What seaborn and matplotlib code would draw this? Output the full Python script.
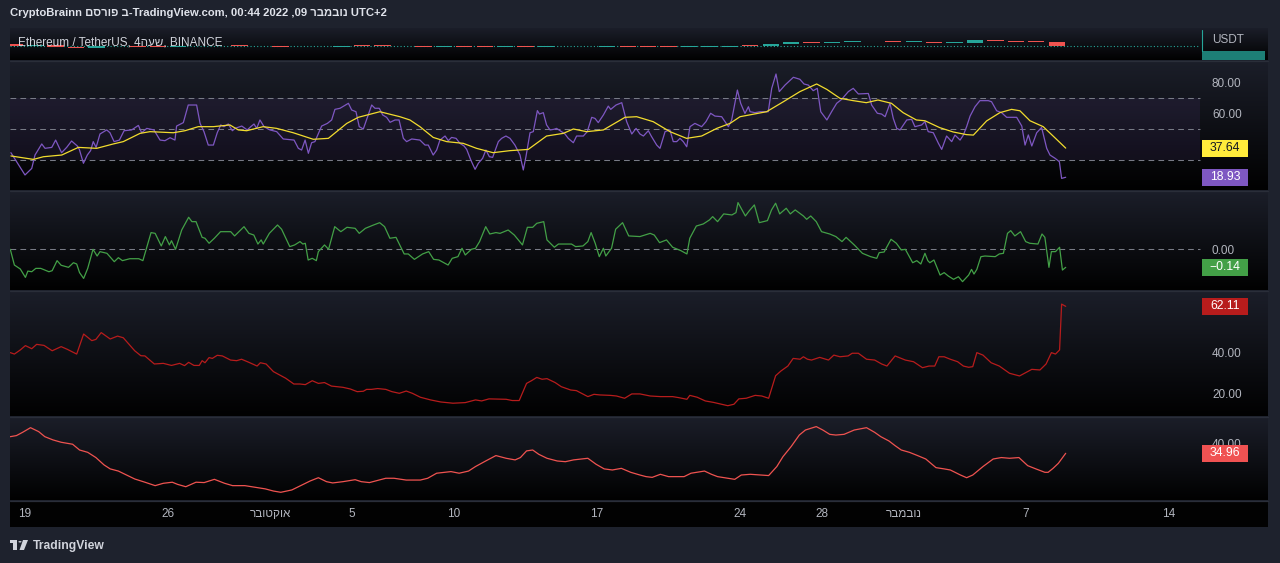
import numpy as np
import matplotlib
matplotlib.use("Agg")
import matplotlib.pyplot as plt
import seaborn as sns
from matplotlib.colors import LinearSegmentedColormap
from matplotlib.patches import Rectangle, Circle, Polygon
from matplotlib.lines import Line2D

# ---------------- data (x = days since 19 Sep 2022 00:00) ----------------
rsi_day = [-0.69, 0.00, 0.33, 0.49, 0.82, 0.98, 1.31, 1.50, 1.79, 2.04, 2.28, 2.56, 2.66, 2.86, 3.05, 3.21,
           3.34, 3.48, 3.67, 4.00, 4.16, 4.36, 4.62, 4.85, 5.22, 5.55, 5.71, 5.96, 6.31, 6.61, 6.85, 7.10,
           7.34, 7.42, 7.75, 7.99, 8.40, 8.57, 8.76, 8.97, 9.22, 9.41, 9.58, 9.74, 9.95, 10.15, 10.28, 10.61,
           10.88, 11.05, 11.21, 11.34, 11.50, 11.70, 11.99, 12.32, 12.64, 13.17, 13.38, 13.54, 13.71, 13.87,
           14.03, 14.19, 14.52, 14.80, 15.01, 15.17, 15.42, 15.83, 15.99, 16.20, 16.36, 16.56, 16.97, 17.13,
           17.34, 17.51, 17.70, 17.87, 18.11, 18.31, 18.52, 18.68, 18.93, 19.33, 19.58, 19.74, 19.98, 20.15,
           20.31, 20.56, 20.72, 20.88, 21.10, 21.29, 21.49, 21.62, 21.82, 22.03, 22.19, 22.40, 22.56, 22.73,
           22.89, 23.17, 23.33, 23.54, 23.74, 23.98, 24.23, 24.39, 24.52, 24.72, 24.88, 25.08, 25.18, 25.37,
           25.53, 25.70, 25.89, 26.02, 26.19, 26.43, 26.59, 26.84, 27.00, 27.33, 27.52, 27.74, 27.90, 28.06,
           28.31, 28.55, 28.67, 28.93, 29.21, 29.45, 29.70, 29.91, 30.10, 30.27, 30.51, 30.67, 30.92, 31.08,
           31.33, 31.57, 31.73, 31.90, 32.06, 32.22, 32.39, 32.55, 32.79, 33.12, 33.33, 33.56, 33.77, 34.10,
           34.43, 34.59, 34.87, 35.03, 35.24, 35.41, 35.49, 35.73, 35.98, 36.38, 36.55, 36.76, 36.92, 37.20,
           37.61, 37.93, 38.13, 38.34, 38.58, 38.78, 38.95, 39.25, 39.48, 39.73, 39.97, 40.30, 40.54, 40.79,
           41.28, 41.44, 41.72, 41.93, 42.10, 42.34, 42.50, 42.67, 42.83, 43.16, 43.40, 43.56, 43.89, 44.05,
           44.21, 44.46, 44.71, 44.87, 45.11, 45.36, 45.52, 45.77, 45.93, 46.09, 46.26, 46.50, 46.74, 47.15,
           47.31, 47.56, 47.80, 48.05, 48.54, 48.79, 48.95, 49.11, 49.28, 49.52, 49.76, 50.01, 50.17, 50.42,
           50.63, 50.74, 50.94]
rsi_val = [34.7, 20.4, 24.6, 33.2, 40.3, 37.5, 38.1, 42.8, 34.7, 38.1, 42.2, 39.0, 36.8, 27.9, 33.2, 36.0,
           41.8, 38.1, 46.7, 49.3, 47.5, 41.8, 42.8, 48.8, 49.3, 52.2, 47.5, 50.3, 49.3, 42.8, 42.4, 44.3,
           42.8, 51.8, 54.0, 65.3, 65.3, 53.5, 48.2, 39.6, 39.6, 47.5, 52.5, 51.4, 53.1, 48.8, 50.3, 51.8,
           49.3, 51.4, 53.1, 50.3, 55.7, 51.4, 49.3, 48.2, 43.5, 42.8, 37.5, 36.4, 42.8, 34.3,
           41.1, 41.8, 51.8, 53.5, 55.7, 62.5, 63.2, 66.4, 62.1, 61.0, 51.4, 49.9, 65.3, 63.2,
           63.2, 58.9, 57.4, 54.2, 55.7, 55.7, 43.9, 41.8, 43.5, 42.8, 39.6, 39.6, 33.2, 36.4,
           42.8, 45.4, 42.4, 44.5, 43.9, 40.7, 39.0, 36.8, 30.0, 24.0, 27.9, 31.1, 36.4, 32.1,
           31.7, 41.8, 43.9, 45.4, 43.9, 39.6, 33.2, 23.6, 32.1, 47.5, 48.2, 61.7, 59.5, 60.4,
           52.5, 49.3, 49.7, 50.3, 48.8, 46.7, 43.9, 41.1, 45.4, 45.4, 48.2, 57.4, 56.7, 54.0,
           58.9, 64.6, 62.5, 65.3, 66.8, 54.6, 46.7, 50.3, 46.7, 45.4, 48.8, 45.0, 39.6, 37.5,
           48.2, 49.3, 41.8, 41.8, 43.9, 41.8, 38.5, 51.4, 53.5, 51.4, 54.6, 60.0, 58.2, 57.8,
           51.4, 55.7, 74.9, 66.4, 59.9, 64.2, 61.0, 60.4, 61.0, 61.0, 76.0, 85.2, 73.9, 78.1,
           83.1, 81.8, 78.8, 78.1, 74.5, 76.0, 61.0, 55.7, 61.0, 66.4, 68.9, 73.9, 76.0, 72.4,
           72.7, 65.3, 60.0, 59.5, 57.8, 66.4, 56.7, 50.3, 49.3, 55.7, 56.1, 51.4, 52.5, 54.6,
           48.2, 47.5, 40.7, 36.8, 45.4, 41.8, 46.0, 42.8, 46.0, 51.4, 58.2, 64.2, 68.1, 68.1,
           67.4, 61.6, 60.4, 57.4, 57.4, 51.8, 39.6, 46.1, 39.0, 47.5, 50.9, 37.5, 33.2, 31.1,
           28.9, 18.2, 18.93]

rsi_ma_day = [-0.69, 0.41, 0.90, 1.80, 2.61, 3.51, 4.32, 4.81, 5.63, 6.12, 7.26, 7.83, 8.48, 9.22, 10.03,
              10.44, 10.85, 11.66, 12.32, 13.13, 14.11, 14.85, 15.75, 16.31, 17.37, 18.35, 18.84, 19.33,
              19.98, 20.64, 21.45, 22.10, 22.91, 23.73, 24.63, 25.53, 26.35, 26.84, 27.49, 28.31, 29.37,
              29.94, 30.75, 31.57, 32.38, 33.12, 33.86, 34.51, 35.00, 36.30, 37.12, 37.93, 38.75, 39.25,
              39.89, 40.54, 41.18, 41.75, 42.41, 42.98, 43.63, 44.05, 44.77, 45.43, 46.08, 46.42, 47.07,
              47.72, 48.29, 48.70, 49.19, 49.84, 50.49, 50.94]
rsi_ma_val = [32.6, 30.4, 32.1, 33.2, 38.1, 37.5, 40.3, 41.8, 47.1, 48.2, 47.5, 48.8, 51.4, 51.4, 52.5,
              49.3, 48.8, 51.4, 50.3, 47.5, 43.3, 43.9, 53.5, 57.4, 61.0, 57.8, 55.7, 51.4,
              44.5, 41.8, 40.7, 37.5, 34.7, 36.0, 36.8, 45.4, 47.1, 49.9, 48.2, 49.3, 57.4,
              57.8, 54.6, 48.2, 43.9, 45.4, 50.3, 53.5, 57.8, 61.0, 67.4, 73.9, 78.8, 75.3,
              69.6, 68.1, 66.8, 68.5, 66.4, 60.4, 55.7, 55.2, 50.8, 48.0, 46.3, 46.0, 55.1,
              60.4, 62.5, 61.6, 55.2, 51.4, 43.3, 37.64]

osc_day = [-0.72, -0.52, -0.23, 0.02, 0.14, 0.33, 0.53, 0.77, 1.17, 1.33, 1.57, 1.77, 2.13, 2.37, 2.53,
           2.67, 2.87, 3.07, 3.33, 3.53, 3.67, 4.01, 4.37, 4.57, 4.77, 5.13, 5.57, 5.77, 6.17, 6.37, 6.67,
           6.87, 7.07, 7.17, 7.37, 7.67, 8.01, 8.17, 8.37, 8.67, 8.81, 9.01, 9.27, 9.57, 10.07, 10.26,
           10.72, 10.96, 11.20, 11.40, 11.56, 11.66, 11.96, 12.36, 12.56, 12.96, 13.20, 13.46, 13.60,
           13.72, 13.86, 14.06, 14.26, 14.36, 14.66, 14.86, 15.16, 15.46, 15.76, 16.16, 16.36, 16.66,
           17.06, 17.36, 17.60, 17.86, 18.16, 18.56, 18.76, 19.06, 19.26, 19.46, 19.76, 20.00, 20.26,
           20.56, 20.71, 20.91, 21.19, 21.39, 21.55, 21.85, 22.05, 22.25, 22.55, 22.75, 23.05, 23.25,
           23.65, 23.95, 24.35, 24.59, 24.85, 25.05, 25.39, 25.55, 25.91, 26.11, 26.75, 26.95, 27.31,
           27.55, 27.71, 27.91, 28.11, 28.31, 28.43, 28.71, 28.91, 29.25, 29.55, 30.10, 30.60, 30.80,
           31.06, 31.40, 31.70, 32.10, 32.40, 32.54, 32.86, 33.20, 33.50, 33.66, 33.90, 34.20, 34.60,
           34.80, 34.90, 35.26, 35.46, 35.70, 35.94, 36.34, 36.54, 36.74, 36.94, 37.26, 37.46, 37.70,
           38.10, 38.26, 38.46, 38.73, 38.99, 39.39, 39.69, 39.99, 40.19, 40.59, 40.99, 41.39, 41.69,
           41.81, 42.05, 42.39, 42.65, 42.89, 43.09, 43.45, 43.65, 43.85, 44.05, 44.19, 44.29, 44.49,
           44.79, 44.99, 45.19, 45.45, 45.69, 45.89, 46.19, 46.33, 46.45, 46.59, 46.79, 46.99, 47.49,
           47.69, 47.89, 48.09, 48.25, 48.45, 48.73, 48.98, 49.18, 49.58, 49.78, 49.92, 50.12, 50.24,
           50.44, 50.64, 50.78, 50.94]
osc_val = [0.0, -0.122, -0.153, -0.218, -0.169, -0.174, -0.148, -0.148, -0.174, -0.166, -0.088, -0.124,
           -0.140, -0.104, -0.114, -0.181, -0.226, -0.148, 0.0, -0.052, -0.018, -0.031, -0.096, -0.065,
           -0.088, -0.073, -0.073, -0.088, 0.130, 0.124, 0.026, 0.099, 0.034, 0.067, 0.0, 0.150, 0.249,
           0.215, 0.215, 0.093, 0.086, 0.047, 0.086, 0.137, 0.137, 0.104, 0.176, 0.124, 0.111, 0.041,
           0.073, 0.041, 0.124, 0.189, 0.156, 0.021, 0.034, 0.060, 0.041, 0.047, -0.083, -0.070, -0.088,
           -0.018, 0.034, 0.0, 0.176, 0.137, 0.171, 0.163, 0.124, 0.163, 0.189, 0.207, 0.176, 0.086,
           0.093, -0.036, -0.036, -0.078, -0.057, -0.036, -0.018, -0.078, -0.083, -0.109, -0.122, -0.070,
           -0.057, 0.008, -0.044, 0.0, 0.008, 0.060, 0.176, 0.119, 0.130, 0.124, 0.150, 0.111, 0.034,
           0.171, 0.171, 0.202, 0.215, 0.073, 0.016, 0.041, 0.041, 0.021, 0.026, 0.060, 0.130, 0.047,
           -0.057, 0.008, -0.052, 0.008, 0.156, 0.207, 0.104, 0.099, 0.124, 0.111, 0.052, 0.073, 0.016,
           -0.010, -0.036, 0.086, 0.181, 0.197, 0.228, 0.254, 0.215, 0.275, 0.267, 0.285, 0.363, 0.259,
           0.301, 0.345, 0.207, 0.223, 0.306, 0.358, 0.275, 0.319, 0.275, 0.306, 0.259, 0.233, 0.259,
           0.215, 0.137, 0.119, 0.099, 0.060, 0.093, 0.034, -0.031, -0.057, -0.070, -0.026, -0.021,
           0.078, 0.047, -0.005, 0.0, -0.104, -0.088, -0.114, -0.031, -0.088, -0.104, -0.083, -0.200,
           -0.181, -0.207, -0.233, -0.213, -0.251, -0.200, -0.156, -0.192, -0.156, -0.057, -0.052,
           -0.057, -0.036, -0.031, 0.124, 0.145, 0.104, 0.137, 0.060, 0.047, 0.041, 0.119, 0.093,
           -0.140, -0.018, -0.018, 0.016, -0.161, -0.14]

vol_day = [-0.72, -0.52, -0.23, 0.02, 0.33, 0.57, 0.93, 1.33, 1.77, 2.07, 2.53, 2.87, 3.27, 3.47, 3.73,
           4.17, 4.53, 4.81, 5.37, 5.67, 5.87, 6.33, 6.77, 7.17, 7.57, 7.81, 8.01, 8.27, 8.53, 8.67, 8.81,
           9.01, 9.17, 9.41, 9.66, 10.06, 10.36, 10.60, 10.96, 11.36, 11.52, 11.80, 12.16, 12.76, 13.16,
           13.46, 13.72, 14.06, 14.36, 14.66, 15.00, 15.56, 15.92, 16.26, 16.56, 16.72, 16.96, 17.26,
           17.66, 17.96, 18.32, 18.66, 18.96, 19.35, 19.85, 20.35, 20.95, 21.55, 22.05, 22.35, 22.71,
           23.55, 23.85, 24.19, 24.55, 24.79, 25.05, 25.31, 25.55, 25.95, 26.25, 26.71, 26.99, 27.55,
           27.85, 28.15, 28.65, 28.95, 29.35, 29.70, 30.10, 30.60, 31.10, 31.70, 32.00, 32.40, 32.54,
           32.90, 33.30, 33.70, 34.10, 34.40, 34.70, 34.94, 35.30, 35.74, 36.06, 36.40, 36.74, 37.00,
           37.34, 37.60, 37.94, 38.10, 38.30, 38.50, 38.90, 39.33, 39.59, 39.89, 40.29, 40.49, 40.79,
           41.19, 41.59, 41.93, 42.19, 42.59, 43.09, 43.49, 43.93, 44.25, 44.53, 44.73, 44.99, 45.29,
           45.65, 45.93, 46.19, 46.39, 46.59, 46.89, 47.29, 47.69, 48.19, 48.68, 48.98, 49.28, 49.68,
           49.98, 50.24, 50.44, 50.64, 50.74, 50.94]
vol_val = [39.7, 39.0, 41.0, 43.1, 41.6, 43.7, 43.2, 40.6, 42.6, 41.3, 39.0, 48.7, 45.5, 46.1, 49.4,
           46.3, 47.7, 46.9, 40.6, 38.2, 38.1, 34.2, 34.5, 33.5, 34.5, 33.4, 35.0, 33.5, 33.5, 35.8, 34.8,
           37.3, 36.9, 38.4, 38.1, 36.1, 35.8, 36.5, 35.0, 33.2, 34.8, 34.2, 30.5, 27.3, 24.5,
           24.5, 24.2, 26.1, 24.8, 25.2, 23.5, 22.9, 22.1, 20.8, 21.0, 21.9, 21.9, 22.3,
           21.9, 20.8, 20.0, 21.1, 20.0, 18.1, 16.8, 15.8, 15.2, 15.5, 16.8, 16.3, 17.3,
           17.1, 16.5, 16.5, 24.8, 26.1, 27.7, 26.8, 27.1, 25.2, 23.2, 21.6, 21.3, 18.4,
           19.5, 19.2, 19.0, 18.7, 17.6, 19.7, 19.7, 18.7, 18.4, 18.4, 17.9, 17.1, 19.0,
           18.1, 16.3, 15.6, 14.7, 14.0, 14.7, 17.3, 17.6, 19.0, 18.7, 17.6, 28.5, 30.8,
           33.2, 36.9, 36.5, 37.7, 36.5, 36.1, 37.4, 36.1, 38.5, 37.7, 38.1, 39.4, 39.4,
           36.5, 36.1, 34.2, 33.2, 38.1, 36.1, 35.3, 32.4, 33.2, 33.2, 37.7, 37.7, 36.5,
           35.3, 33.2, 32.6, 32.9, 39.7, 38.5, 34.8, 33.2, 29.7, 28.4, 30.0, 31.6, 31.3,
           34.2, 39.7, 39.0, 41.0, 63.2, 62.11]

hv_day = [-0.72, -0.42, -0.12, 0.27, 0.67, 0.97, 1.37, 1.77, 2.33, 2.67, 3.07, 3.47, 3.87, 4.17, 4.57,
          4.97, 5.37, 5.87, 6.37, 6.77, 7.21, 7.47, 7.87, 8.37, 8.77, 9.27, 9.77, 10.16, 10.76, 11.36,
          11.76, 12.16, 12.52, 13.06, 13.56, 13.96, 14.36, 14.76, 15.06, 15.56, 16.16, 16.46, 16.86,
          17.16, 17.66, 18.06, 18.66, 19.35, 19.71, 20.15, 20.55, 20.85, 21.25, 21.71, 22.05, 22.55,
          23.05, 23.55, 23.99, 24.25, 24.55, 24.85, 25.15, 25.55, 26.05, 26.45, 26.85, 27.55, 27.95,
          28.35, 28.75, 29.19, 29.65, 30.10, 30.40, 30.70, 31.10, 31.50, 31.90, 32.26, 32.60, 33.26,
          33.60, 33.90, 34.40, 34.74, 35.06, 35.50, 36.00, 36.40, 36.80, 37.10, 37.50, 37.90, 38.20,
          38.73, 39.05, 39.39, 39.69, 40.09, 40.59, 41.19, 41.59, 41.89, 42.29, 42.59, 42.89, 43.29,
          43.69, 44.09, 44.59, 44.99, 45.29, 45.79, 46.09, 46.39, 46.89, 47.39, 47.79, 48.19, 48.65,
          49.08, 49.48, 49.92, 50.08, 50.32, 50.58, 50.94]
hv_val = [44.2, 44.8, 46.6, 49.2, 47.0, 44.2, 42.4, 41.1, 40.0, 36.8, 35.5, 32.6, 28.5, 26.3, 25.1,
          22.9, 20.7, 18.9, 17.0, 18.3, 18.9, 17.7, 16.4, 18.9, 18.7, 20.5, 18.3, 17.0, 17.0, 15.9,
          15.2, 14.0, 13.3, 14.6, 17.4, 19.6, 21.4, 19.2, 18.5, 19.2, 20.3, 19.2, 18.7,
          19.6, 21.1, 21.1, 20.1, 20.1, 21.1, 23.9, 24.4, 24.8, 23.9, 25.1, 27.6, 30.7,
          33.7, 32.2, 31.3, 32.6, 36.3, 36.8, 34.4, 32.2, 30.7, 30.3, 31.3, 32.2, 28.9,
          26.3, 25.7, 26.6, 24.4, 22.9, 22.0, 21.6, 23.3, 22.0, 22.0, 22.0, 23.9, 25.1,
          23.3, 22.0, 21.1, 20.5, 22.9, 23.3, 22.9, 22.6, 27.6, 33.1, 38.7, 45.1, 47.9,
          49.8, 47.9, 45.5, 45.1, 45.5, 47.9, 49.2, 46.6, 44.2, 41.8, 39.2, 36.8, 35.5,
          33.7, 31.8, 27.0, 26.3, 25.7, 22.9, 21.4, 22.9, 27.6, 31.8, 32.6, 32.2, 32.6,
          28.1, 26.3, 24.4, 24.4, 26.6, 29.4, 34.96]

# daily ETH/USDT closes, 18 Sep - 8 Nov 2022
price_open_first = 1470
price_close = [1335, 1377, 1324, 1252, 1327, 1328, 1317, 1294, 1335, 1330, 1336, 1335, 1328,
               1311, 1276, 1323, 1362, 1352, 1351, 1330, 1316, 1322, 1292, 1280, 1295, 1289, 1297,
               1275, 1306, 1331, 1311, 1286, 1282, 1300, 1314, 1364, 1344, 1460, 1565, 1512, 1555,
               1619, 1589, 1572, 1580, 1519, 1531, 1645, 1627, 1572, 1568, 1335]

tick_days = [0, 7, 12, 16, 21, 28, 35, 39, 43, 49, 56]
tick_labels = ['19', '26', 'רבוטקוא', '5', '10', '17', '24', '28', 'רבמבונ', '7', '14']

title_text = 'CryptoBrainn םסרופ ב-TradingView.com, 00:44 2022 ,09 רבמבונ UTC+2'
legend_text = 'Ethereum / TetherUS, 4העש, BINANCE'

# ---------------- style ----------------
sns.set_theme(style="dark")
plt.rcParams['font.family'] = ['Liberation Sans', 'DejaVu Sans']

W, H = 1280, 563
BG = '#1e222d'
fig = plt.figure(figsize=(W / 100, H / 100), dpi=100, facecolor=BG)

PX0, PX1, PLOT_END = 10, 1268, 1200
DAY0_PX, PX_PER_DAY = 25.0, 20.43
XL = (PX0 - DAY0_PX) / PX_PER_DAY
XR = (PX1 - DAY0_PX) / PX_PER_DAY
XEND = (PLOT_END - DAY0_PX) / PX_PER_DAY

TXT = '#b2b5be'
DASH = (0, (5.5, 4))
grad_cmap = LinearSegmentedColormap.from_list('g', ['#1b1e29', '#010101'])


def pane(y0, y1, ylim, grad=True):
    ax = fig.add_axes([PX0 / W, 1 - y1 / H, (PX1 - PX0) / W, (y1 - y0) / H])
    if grad:
        g = np.linspace(0, 1, 256).reshape(-1, 1)
        ax.imshow(g, aspect='auto', cmap=grad_cmap, extent=[0, 1, 0, 1],
                  transform=ax.transAxes, zorder=0, origin='upper', interpolation='bilinear')
    else:
        ax.set_facecolor('#020202')
    ax.set_xlim(XL, XR)
    ax.set_ylim(*ylim)
    for s in ax.spines.values():
        s.set_visible(False)
    ax.set_xticks([])
    ax.grid(False)
    ax.yaxis.set_ticks_position('right')
    ax.tick_params(axis='y', length=0, pad=-(PX1 - 1212) * 0.72, labelsize=8.5,
                   labelcolor=TXT, labelright=True, labelleft=False)
    ax.set_xlabel('')
    ax.set_ylabel('')
    return ax


def ypix(ax, v):
    pos = ax.get_position()
    y0, y1 = ax.get_ylim()
    f = (v - y0) / (y1 - y0)
    return H * (1 - (pos.y0 + f * pos.height))


def value_box(ax, v, text, fc, tc):
    yp = ypix(ax, v)
    fig.add_artist(Rectangle((1202 / W, 1 - (yp + 8.5) / H), 46 / W, 17 / H,
                             transform=fig.transFigure, fc=fc, ec='none', zorder=10))
    fig.text(1225 / W, 1 - yp / H, text, color=tc, ha='center', va='center',
             fontsize=8.8, zorder=11)


def line(ax, xs, ys, color):
    sns.lineplot(x=xs, y=ys, ax=ax, color=color, linewidth=0.9, estimator=None,
                 sort=False, legend=False, zorder=3)
    ax.set_xlabel('')
    ax.set_ylabel('')


# ---------------- price pane ----------------
axp = pane(28, 60, (627, 2281))
opens = [price_open_first] + price_close[:-1]
centers = [i - 0.5 for i in range(len(price_close))]
bottoms = [min(o, c) for o, c in zip(opens, price_close)]
heights = [max(abs(c - o), 45) for o, c in zip(opens, price_close)]
colors = ['#26a69a' if c >= o else '#ef5350' for o, c in zip(opens, price_close)]
axp.bar(centers, heights, bottom=bottoms, width=0.8, color=colors, zorder=3, linewidth=0)
axp.hlines(price_close[-1], XL, XEND, colors='#26a69a', linestyles=(0, (1, 2)), linewidth=0.8, zorder=2)
axp.set_yticks([])
axp.text(8 / (PX1 - PX0), 0.56, legend_text, transform=axp.transAxes, color='#d1d4dc',
         fontsize=8.5, va='center', ha='left', zorder=5)
axp.text((1212 - PX0) / (PX1 - PX0), 0.62, 'USDT', transform=axp.transAxes, color=TXT,
         fontsize=8.5, va='center', ha='left', zorder=5)
fig.add_artist(Rectangle((1202 / W, 1 - 60 / H), 63 / W, 9 / H, transform=fig.transFigure,
                         fc='#1d7f76', ec='none', zorder=9))
fig.add_artist(Line2D([1202 / W, 1202 / W], [1 - 30 / H, 1 - 51 / H], color='#26a69a', lw=0.8,
                      transform=fig.transFigure, zorder=9))

# ---------------- RSI pane ----------------
axr = pane(61, 190, (10.75, 93.55))
axr.fill_between([XL, XEND], 30, 70, color='#7e57c2', alpha=0.1, linewidth=0, zorder=1)
axr.hlines([70, 50, 30], XL, XEND, colors='#787b86', linestyles=DASH, linewidth=0.75, zorder=2)
line(axr, rsi_day, rsi_val, '#7e57c2')
line(axr, rsi_ma_day, rsi_ma_val, '#f2dc2e')
axr.set_yticks([80, 60])
axr.set_yticklabels(['80.00', '60.00'])

# ---------------- oscillator pane ----------------
axo = pane(191, 290, (-0.316, 0.453))
axo.hlines([0], XL, XEND, colors='#787b86', linestyles=DASH, linewidth=0.75, zorder=2)
line(axo, osc_day, osc_val, '#43a047')
axo.set_yticks([0])
axo.set_yticklabels(['0.00'])

# ---------------- red pane 1 ----------------
axv = pane(291, 416, (9.01, 69.54))
line(axv, vol_day, vol_val, '#b71c1c')
axv.set_yticks([40, 20])
axv.set_yticklabels(['40.00', '20.00'])

# ---------------- red pane 2 ----------------
axh = pane(417, 500, (9.02, 55.13))
line(axh, hv_day, hv_val, '#ef5350')
axh.set_yticks([40.6])
axh.set_yticklabels(['40.00'])

# ---------------- time axis ----------------
axt = pane(501, 527, (0, 1), grad=False)
axt.set_yticks([])
axt.set_xticks(tick_days)
axt.set_xticklabels(tick_labels)
axt.tick_params(axis='x', length=0, pad=-13.8, labelsize=8.5, labelcolor=TXT, labelbottom=True)

# value boxes
value_box(axr, rsi_ma_val[-1], f'{rsi_ma_val[-1]:.2f}', '#ffeb3b', '#131722')
value_box(axr, rsi_val[-1], f'{rsi_val[-1]:.2f}', '#7e57c2', '#ffffff')
value_box(axo, osc_val[-1], '\u2212' + f'{abs(osc_val[-1]):.2f}', '#43a047', '#ffffff')
value_box(axv, vol_val[-1], f'{vol_val[-1]:.2f}', '#b71c1c', '#ffffff')
value_box(axh, hv_val[-1], f'{hv_val[-1]:.2f}', '#f05252', '#ffffff')

# separators
for yy in [60.5, 190.5, 290.5, 416.5, 500.5]:
    fig.add_artist(Line2D([PX0 / W, PX1 / W], [1 - yy / H, 1 - yy / H], color='#2a2e39', lw=0.9,
                          transform=fig.transFigure, zorder=8))

# header / footer
fig.text(10 / W, 1 - 13.5 / H, title_text, color='#e0e3eb', fontsize=8.1, va='center', ha='left',
         fontweight='bold')
fig.add_artist(Rectangle((10 / W, 1 - 543 / H), 7 / W, 3 / H, transform=fig.transFigure, fc='#d1d4dc', ec='none'))
fig.add_artist(Rectangle((13 / W, 1 - 550 / H), 4 / W, 10 / H, transform=fig.transFigure, fc='#d1d4dc', ec='none'))
fig.add_artist(Circle((20 / W, 1 - 541.8 / H), 1.6 / W, transform=fig.transFigure, fc='#d1d4dc', ec='none'))
fig.add_artist(Polygon([(23 / W, 1 - 540 / H), (28 / W, 1 - 540 / H), (24 / W, 1 - 550 / H), (19.5 / W, 1 - 550 / H)],
                       closed=True, transform=fig.transFigure, fc='#d1d4dc', ec='none'))
fig.text(33 / W, 1 - 545.5 / H, 'TradingView', color='#d1d4dc', fontsize=8.7, va='center', ha='left',
         fontweight='bold')

fig.savefig('out.png', dpi=100, facecolor=BG)
